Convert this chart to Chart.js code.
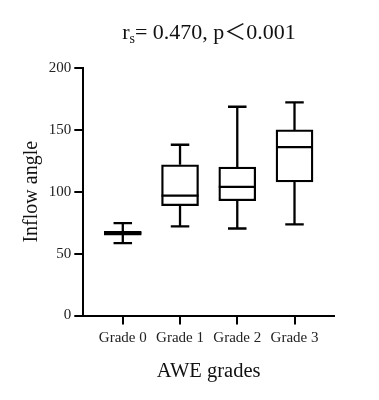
<!DOCTYPE html>
<html>
<head>
<meta charset="utf-8">
<script src="https://cdn.jsdelivr.net/npm/chart.js@4.4.0/dist/chart.umd.min.js"></script>
<style>
  html, body { margin: 0; padding: 0; background: #fff; }
  #wrap { position: relative; width: 379px; height: 400px; }
  #titulo {
    position: absolute; left: 0; width: 418px; top: 13px;
    text-align: center; font: 22px "Liberation Serif", serif; color: #111;
    white-space: nowrap;
  }
  #titulo sub { font-size: 14px; vertical-align: -4px; }
  #titulo .lt { font-family: "Noto Sans CJK SC", sans-serif; font-size: 22px; }
</style>
</head>
<body>
<div id="wrap">
  <div id="titulo">r<sub>s</sub>= 0.470, p<span class="lt">＜</span>0.001</div>
  <canvas id="boxChart" width="379" height="400"></canvas>
</div>
<script>
const categorias = ['Grade 0', 'Grade 1', 'Grade 2', 'Grade 3'];
const minimos = [58.5, 72, 70.3, 73.6];
const q1 = [65, 88.7, 92.7, 108];
const medianas = [66.5, 96.8, 104, 136];
const q3 = [68, 121.8, 120, 150];
const maximos = [74.7, 138, 168.7, 172.2];
const ticksY = [0, 50, 100, 150, 200];

const fuente = '"Liberation Serif", "Times New Roman", serif';

// bigotes y mediana sobre las barras flotantes
const bigotes = {
  id: 'bigotes',
  afterDatasetsDraw(chart) {
    const ctx = chart.ctx;
    const y = chart.scales.y;
    const barras = chart.getDatasetMeta(0).data;
    ctx.save();
    ctx.strokeStyle = '#000';
    ctx.lineWidth = 2.3;
    barras.forEach((bar, i) => {
      const cx = bar.x;
      const mitad = bar.width / 2;
      const tapa = bar.width / 4;
      const yMax = y.getPixelForValue(maximos[i]);
      const yMin = y.getPixelForValue(minimos[i]);
      const yQ1 = y.getPixelForValue(q1[i]);
      const yQ3 = y.getPixelForValue(q3[i]);
      const yMed = y.getPixelForValue(medianas[i]);
      ctx.beginPath();
      ctx.moveTo(cx, yQ3); ctx.lineTo(cx, yMax);
      ctx.moveTo(cx - tapa, yMax); ctx.lineTo(cx + tapa, yMax);
      ctx.moveTo(cx, yQ1); ctx.lineTo(cx, yMin);
      ctx.moveTo(cx - tapa, yMin); ctx.lineTo(cx + tapa, yMin);
      ctx.moveTo(cx - mitad, yMed); ctx.lineTo(cx + mitad, yMed);
      ctx.stroke();
    });
    ctx.restore();
  }
};

new Chart(document.getElementById('boxChart').getContext('2d'), {
  type: 'bar',
  data: {
    datasets: [{
      data: categorias.map((_, i) => ({ x: i, y: [q1[i], q3[i]] })),
      backgroundColor: '#fff',
      borderColor: '#000',
      borderWidth: 2.3,
      borderSkipped: false,
      barThickness: 37
    }]
  },
  options: {
    responsive: false,
    animation: false,
    layout: { padding: { left: 10, right: 45, top: 68, bottom: 10 } },
    plugins: { legend: { display: false }, tooltip: { enabled: false } },
    scales: {
      x: {
        type: 'linear',
        offset: false,
        min: -0.69,
        max: 3.69,
        afterBuildTicks: s => { s.ticks = categorias.map((_, i) => ({ value: i })); },
        afterFit: s => { s.height = 74.5; },
        ticks: {
          callback: v => categorias[v],
          color: '#222',
          font: { family: fuente, size: 15 },
          padding: 5,
          maxRotation: 0,
          autoSkip: false
        },
        grid: { offset: false, drawOnChartArea: false, drawTicks: true, tickLength: 9, color: '#000', lineWidth: 2 },
        border: { display: true, color: '#000', width: 2 },
        title: {
          display: true, text: 'AWE grades', color: '#111',
          font: { family: fuente, size: 20.5 }, padding: { top: 0, bottom: 6 }
        }
      },
      y: {
        min: 0,
        max: 200,
        afterBuildTicks: s => { s.ticks = ticksY.map(v => ({ value: v })); },
        afterFit: s => { s.width = 73.3; },
        ticks: { color: '#222', font: { family: fuente, size: 15 }, padding: 3 },
        grid: { drawOnChartArea: false, drawTicks: true, tickLength: 9, color: '#000', lineWidth: 2 },
        border: { display: true, color: '#000', width: 2 },
        title: {
          display: true, text: 'Inflow angle', color: '#111',
          font: { family: fuente, size: 20 }, padding: { top: 10, bottom: 0 }
        }
      }
    }
  },
  plugins: [bigotes]
});
</script>
</body>
</html>
